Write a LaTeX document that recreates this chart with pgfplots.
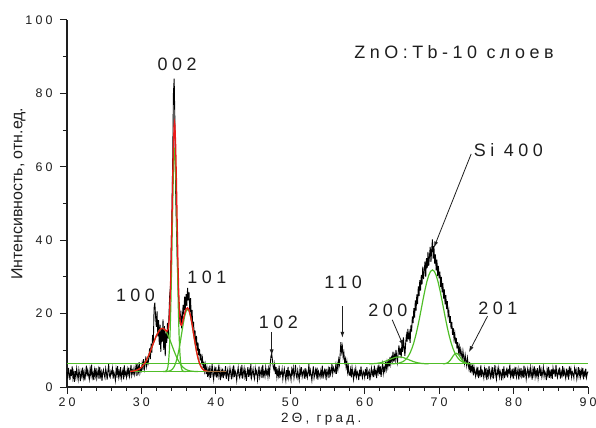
\documentclass[border=0pt]{standalone}
\usepackage{fontspec}
\setmainfont{Liberation Sans}[LetterSpace=25]
\usepackage{pgfplots}
\pgfplotsset{compat=1.18}
\usetikzlibrary{arrows.meta}

\definecolor{fitgreen}{RGB}{80,190,40}
\definecolor{fitred}{RGB}{235,25,25}
\definecolor{fitbrown}{RGB}{160,110,60}
\definecolor{txt}{RGB}{30,30,30}

\begin{document}
\begin{tikzpicture}
\begin{axis}[
  at={(0,0)}, anchor=south west,
  scale only axis, width=521bp, height=367bp,
  xmin=20, xmax=90, ymin=0, ymax=100,
  enlargelimits=false,
  axis lines=left,
  axis line style={-, line width=1.2pt, txt},
  tick align=outside,
  tick style={line width=1pt, txt},
  major tick length=7bp, minor tick length=4bp,
  xtick={20,30,...,90}, minor x tick num=4,
  ytick={0,20,...,100}, minor y tick num=1,
  /pgf/number format/assume math mode=true,
  tick label style={font=\fontsize{12.5}{14}\selectfont, text=txt},
  yticklabel style={xshift=-4bp},
  xlabel={2Θ, град.},
  ylabel={\addfontfeature{LetterSpace=0}Интенсивность, отн.ед.},
  xlabel style={font=\fontsize{13.5}{16}\selectfont, text=txt,
    at={(axis description cs:0.488,-0.087)}, anchor=center},
  ylabel style={font=\fontsize{16}{18}\selectfont, text=txt,
    at={(axis description cs:-0.093,0.527)}, anchor=center},
  clip=false,
]
% measured pattern
\addplot[black, line width=0.9pt] coordinates {
(20.0,4.1)(20.1,2.3)(20.2,5.2)(20.3,3.6)(20.4,1.9)(20.5,4.8)(20.6,3.0)(20.7,5.6)(20.8,2.5)(20.9,3.9)
(21.0,1.4)(21.1,4.4)(21.2,2.8)(21.3,5.0)(21.4,3.3)(21.5,2.0)(21.6,4.7)(21.7,3.5)(21.8,1.6)(21.9,4.2)
(22.0,3.0)(22.1,5.3)(22.2,2.6)(22.3,4.0)(22.4,1.8)(22.5,3.7)(22.6,5.8)(22.7,2.9)(22.8,4.5)(22.9,3.2)
(23.0,2.1)(23.1,4.9)(23.2,3.4)(23.3,6.1)(23.4,2.7)(23.5,3.8)(23.6,1.9)(23.7,4.6)(23.8,3.1)(23.9,5.2)
(24.0,2.4)(24.1,3.6)(24.2,4.8)(24.3,2.2)(24.4,5.5)(24.5,3.0)(24.6,4.1)(24.7,1.7)(24.8,3.9)(24.9,4.7)
(25.0,3.3)(25.1,2.5)(25.2,5.0)(25.3,3.8)(25.4,2.0)(25.5,4.4)(25.6,6.2)(25.7,3.1)(25.8,2.6)(25.9,4.3)
(26.0,3.7)(26.1,5.1)(26.2,2.3)(26.3,4.0)(26.4,3.2)(26.5,1.8)(26.6,4.9)(26.7,3.5)(26.8,5.7)(26.9,2.8)
(27.0,4.2)(27.1,3.0)(27.2,5.4)(27.3,2.4)(27.4,3.8)(27.5,4.6)(27.6,2.1)(27.7,5.9)(27.8,3.3)(27.9,4.0)
(28.0,2.7)(28.1,4.8)(28.2,3.5)(28.3,5.3)(28.4,2.9)(28.5,4.1)(28.6,6.0)(28.7,3.2)(28.8,4.5)(28.9,3.7)
(29.0,5.1)(29.1,3.4)(29.2,4.6)(29.3,6.3)(29.4,3.0)(29.5,5.5)(29.6,4.2)(29.7,6.8)(29.8,3.9)(29.9,5.0)
(30.0,4.4)(30.1,6.5)(30.2,5.2)(30.3,7.6)(30.4,4.9)(30.5,6.1)(30.6,8.3)(30.7,5.7)(30.8,7.0)(30.9,6.4)
(31.0,8.2)(31.1,10.5)(31.2,7.6)(31.3,11.8)(31.4,9.4)(31.5,14.2)(31.6,12.0)(31.7,21.5)(31.8,23.0)(31.9,19.2)
(32.0,16.4)(32.1,20.6)(32.2,13.8)(32.3,18.2)(32.4,11.5)(32.5,17.0)(32.6,9.6)(32.7,15.8)(32.8,12.3)(32.9,18.4)
(33.0,10.1)(33.1,16.6)(33.2,8.4)(33.3,14.9)(33.4,12.0)(33.5,17.5)(33.6,13.2)(33.7,19.6)(33.8,25.0)(33.9,27.5)
(34.0,38.0)(34.1,48.0)(34.2,62.0)(34.3,80.0)(34.4,84.0)(34.5,72.0)(34.6,53.0)(34.7,44.0)(34.8,36.0)(34.9,28.0)
(35.0,24.0)(35.1,19.5)(35.2,17.2)(35.3,20.8)(35.4,16.0)(35.5,18.9)(35.6,22.4)(35.7,19.7)(35.8,24.6)(35.9,21.0)
(36.0,25.3)(36.1,22.1)(36.2,27.0)(36.3,23.6)(36.4,25.8)(36.5,20.4)(36.6,24.2)(36.7,18.6)(36.8,21.0)(36.9,16.3)
(37.0,17.8)(37.1,13.5)(37.2,15.4)(37.3,11.2)(37.4,13.9)(37.5,9.8)(37.6,12.1)(37.7,8.6)(37.8,10.4)(37.9,7.3)
(38.0,9.0)(38.1,6.2)(38.2,7.8)(38.3,5.1)(38.4,6.9)(38.5,4.4)(38.6,6.0)(38.7,3.5)(38.8,5.2)(38.9,2.8)
(39.0,4.6)(39.1,3.1)(39.2,5.8)(39.3,2.5)(39.4,4.0)(39.5,6.3)(39.6,3.4)(39.7,2.0)(39.8,4.8)(39.9,3.6)
(40.0,5.5)(40.1,2.6)(40.2,4.2)(40.3,3.0)(40.4,6.1)(40.5,3.8)(40.6,1.9)(40.7,4.5)(40.8,3.2)(40.9,5.0)
(41.0,2.4)(41.1,4.1)(41.2,3.5)(41.3,5.7)(41.4,2.2)(41.5,3.9)(41.6,4.8)(41.7,1.6)(41.8,3.3)(41.9,5.2)
(42.0,3.8)(42.1,2.1)(42.2,4.6)(42.3,3.2)(42.4,5.9)(42.5,2.7)(42.6,4.3)(42.7,3.6)(42.8,1.8)(42.9,4.0)
(43.0,5.3)(43.1,3.1)(43.2,2.5)(43.3,4.7)(43.4,3.4)(43.5,6.0)(43.6,2.3)(43.7,3.9)(43.8,5.1)(43.9,2.9)
(44.0,4.2)(44.1,1.7)(44.2,3.6)(44.3,5.4)(44.4,2.8)(44.5,4.5)(44.6,3.3)(44.7,6.2)(44.8,2.6)(44.9,3.8)
(45.0,4.9)(45.1,3.0)(45.2,2.2)(45.3,5.1)(45.4,3.7)(45.5,4.4)(45.6,1.9)(45.7,3.5)(45.8,5.6)(45.9,2.7)
(46.0,3.9)(46.1,4.8)(46.2,2.4)(46.3,6.0)(46.4,3.2)(46.5,4.1)(46.6,2.9)(46.7,5.3)(46.8,3.6)(46.9,4.5)
(47.0,2.8)(47.1,5.0)(47.2,3.4)(47.3,6.1)(47.4,8.3)(47.5,9.1)(47.6,7.4)(47.7,5.6)(47.8,4.8)(47.9,6.2)
(48.0,3.5)(48.1,5.4)(48.2,2.7)(48.3,4.3)(48.4,3.1)(48.5,5.8)(48.6,2.4)(48.7,4.0)(48.8,3.6)(48.9,4.9)
(49.0,2.2)(49.1,3.8)(49.2,5.0)(49.3,3.3)(49.4,1.8)(49.5,4.6)(49.6,3.0)(49.7,5.5)(49.8,2.6)(49.9,4.1)
(50.0,3.4)(50.1,2.0)(50.2,4.8)(50.3,3.7)(50.4,5.2)(50.5,2.5)(50.6,4.0)(50.7,6.0)(50.8,3.1)(50.9,2.4)
(51.0,4.5)(51.1,3.2)(51.2,1.9)(51.3,4.9)(51.4,3.6)(51.5,5.4)(51.6,2.8)(51.7,3.9)(51.8,4.4)(51.9,2.3)
(52.0,5.1)(52.1,3.0)(52.2,4.2)(52.3,2.6)(52.4,3.8)(52.5,6.2)(52.6,2.9)(52.7,4.5)(52.8,3.3)(52.9,1.8)
(53.0,4.0)(53.1,5.6)(53.2,2.5)(53.3,3.6)(53.4,4.7)(53.5,3.1)(53.6,5.3)(53.7,2.0)(53.8,4.2)(53.9,3.5)
(54.0,2.7)(54.1,4.4)(54.2,3.2)(54.3,5.8)(54.4,2.3)(54.5,3.9)(54.6,4.6)(54.7,3.0)(54.8,5.0)(54.9,2.6)
(55.0,3.8)(55.1,4.9)(55.2,2.4)(55.3,5.5)(55.4,3.4)(55.5,4.1)(55.6,6.3)(55.7,3.6)(55.8,5.2)(55.9,4.5)
(56.0,4.0)(56.1,5.8)(56.2,3.6)(56.3,6.2)(56.4,4.9)(56.5,7.4)(56.6,6.1)(56.7,8.9)(56.8,12.2)(56.9,9.6)
(57.0,11.0)(57.1,8.2)(57.2,9.4)(57.3,6.8)(57.4,7.7)(57.5,5.4)(57.6,6.9)(57.7,4.1)(57.8,5.6)(57.9,3.3)
(58.0,3.2)(58.1,4.8)(58.2,2.6)(58.3,5.3)(58.4,3.7)(58.5,2.1)(58.6,4.4)(58.7,3.3)(58.8,5.0)(58.9,2.8)
(59.0,4.1)(59.1,3.5)(59.2,1.9)(59.3,4.7)(59.4,2.9)(59.5,5.6)(59.6,3.4)(59.7,2.5)(59.8,4.3)(59.9,3.8)
(60.0,2.6)(60.1,4.9)(60.2,3.1)(60.3,5.4)(60.4,2.2)(60.5,3.9)(60.6,4.5)(60.7,1.8)(60.8,3.6)(60.9,5.1)
(61.0,3.3)(61.1,4.2)(61.2,2.7)(61.3,5.8)(61.4,3.6)(61.5,4.4)(61.6,2.4)(61.7,5.0)(61.8,3.9)(61.9,6.1)
(62.0,3.5)(62.1,5.6)(62.2,2.8)(62.3,4.9)(62.4,6.3)(62.5,3.7)(62.6,5.2)(62.7,4.3)(62.8,6.8)(62.9,4.9)
(63.0,6.8)(63.1,5.4)(63.2,7.6)(63.3,5.6)(63.4,8.2)(63.5,6.3)(63.6,8.0)(63.7,7.1)(63.8,9.6)(63.9,6.9)
(64.0,8.6)(64.1,7.3)(64.2,10.1)(64.3,8.2)(64.4,6.7)(64.5,9.4)(64.6,11.3)(64.7,8.8)(64.8,10.5)(64.9,7.9)
(65.0,12.2)(65.1,9.6)(65.2,13.5)(65.3,10.8)(65.4,8.5)(65.5,11.9)(65.6,14.1)(65.7,12.4)(65.8,15.8)(65.9,13.0)
(66.0,14.6)(66.1,12.0)(66.2,16.8)(66.3,15.1)(66.4,19.2)(66.5,17.4)(66.6,21.5)(66.7,18.9)(66.8,23.6)(66.9,20.8)
(67.0,25.2)(67.1,22.6)(67.2,27.4)(67.3,24.8)(67.4,29.1)(67.5,26.3)(67.6,30.5)(67.7,28.0)(67.8,32.8)(67.9,29.4)
(68.0,31.6)(68.1,34.2)(68.2,30.0)(68.3,35.1)(68.4,32.4)(68.5,36.8)(68.6,33.0)(68.7,35.6)(68.8,38.2)(68.9,34.1)
(69.0,37.5)(69.1,40.2)(69.2,35.0)(69.3,38.4)(69.4,33.6)(69.5,36.1)(69.6,31.8)(69.7,34.7)(69.8,30.2)(69.9,33.0)
(70.0,29.6)(70.1,31.4)(70.2,27.2)(70.3,30.0)(70.4,25.8)(70.5,28.3)(70.6,24.1)(70.7,26.6)(70.8,22.5)(70.9,25.0)
(71.0,21.2)(71.1,23.4)(71.2,19.6)(71.3,20.8)(71.4,17.5)(71.5,19.3)(71.6,15.9)(71.7,17.7)(71.8,14.2)(71.9,16.0)
(72.0,13.1)(72.1,14.6)(72.2,11.8)(72.3,13.4)(72.4,10.5)(72.5,12.2)(72.6,9.6)(72.7,11.0)(72.8,8.4)(72.9,10.3)
(73.0,9.0)(73.1,7.6)(73.2,9.8)(73.3,8.1)(73.4,6.5)(73.5,8.7)(73.6,7.2)(73.7,5.8)(73.8,7.9)(73.9,6.3)
(74.0,5.0)(74.1,6.8)(74.2,3.9)(74.3,5.6)(74.4,4.4)(74.5,6.1)(74.6,3.2)(74.7,5.3)(74.8,4.0)(74.9,2.9)
(75.0,4.7)(75.1,3.6)(75.2,5.5)(75.3,2.4)(75.4,4.1)(75.5,3.3)(75.6,5.9)(75.7,2.7)(75.8,4.4)(75.9,3.8)
(76.0,2.5)(76.1,4.9)(76.2,3.4)(76.3,5.2)(76.4,1.9)(76.5,4.2)(76.6,3.0)(76.7,5.7)(76.8,3.5)(76.9,2.6)
(77.0,4.6)(77.1,3.1)(77.2,5.4)(77.3,2.3)(77.4,4.0)(77.5,6.0)(77.6,3.3)(77.7,2.1)(77.8,4.8)(77.9,3.7)
(78.0,5.1)(78.1,2.8)(78.2,4.3)(78.3,3.5)(78.4,1.8)(78.5,4.9)(78.6,3.2)(78.7,5.6)(78.8,2.4)(78.9,4.0)
(79.0,3.4)(79.1,5.3)(79.2,2.6)(79.3,4.5)(79.4,3.9)(79.5,6.1)(79.6,2.9)(79.7,4.2)(79.8,3.1)(79.9,5.0)
(80.0,2.3)(80.1,4.7)(80.2,3.6)(80.3,5.5)(80.4,2.7)(80.5,3.8)(80.6,4.9)(80.7,2.0)(80.8,4.4)(80.9,3.3)
(81.0,5.2)(81.1,3.0)(81.2,4.1)(81.3,2.5)(81.4,5.8)(81.5,3.4)(81.6,4.6)(81.7,2.2)(81.8,3.9)(81.9,5.0)
(82.0,3.1)(82.1,4.4)(82.2,2.6)(82.3,5.3)(82.4,3.7)(82.5,2.0)(82.6,4.8)(82.7,3.5)(82.8,5.6)(82.9,2.8)
(83.0,4.3)(83.1,3.2)(83.2,5.1)(83.3,2.4)(83.4,4.0)(83.5,5.9)(83.6,3.0)(83.7,4.6)(83.8,2.7)(83.9,3.8)
(84.0,5.4)(84.1,2.9)(84.2,4.2)(84.3,3.6)(84.4,1.9)(84.5,4.7)(84.6,3.3)(84.7,5.5)(84.8,2.5)(84.9,4.1)
(85.0,3.0)(85.1,4.8)(85.2,2.2)(85.3,5.2)(85.4,3.9)(85.5,4.4)(85.6,2.8)(85.7,6.0)(85.8,3.4)(85.9,2.6)
(86.0,4.5)(86.1,3.7)(86.2,5.3)(86.3,2.3)(86.4,4.0)(86.5,3.1)(86.6,5.7)(86.7,2.9)(86.8,4.6)(86.9,3.5)
(87.0,2.4)(87.1,5.0)(87.2,3.3)(87.3,4.3)(87.4,2.0)(87.5,5.6)(87.6,3.8)(87.7,4.9)(87.8,2.7)(87.9,4.1)
(88.0,3.6)(88.1,2.5)(88.2,5.1)(88.3,3.9)(88.4,4.7)(88.5,2.2)(88.6,3.4)(88.7,5.4)(88.8,3.0)(88.9,4.4)
(89.0,2.8)(89.1,4.6)(89.2,3.5)(89.3,5.2)(89.4,2.1)(89.5,4.0)(89.6,3.2)(89.7,5.0)(89.8,2.6)(89.9,3.7)
(90.0,4.2)
};
% background level of the Si fit
\addplot[fitgreen, line width=1.2pt] coordinates {(20,6.3)(90,6.3)};
% background level of the ZnO fit
\addplot[fitgreen, line width=1.2pt] coordinates {(28.5,4.2)(38.6,4.2)};
% ZnO 100 component
\addplot[fitgreen, line width=1.2pt] coordinates {
(28.5,4.25)(28.8,4.30)(29.05,4.38)(29.3,4.51)(29.55,4.72)(29.8,5.02)(30.05,5.46)(30.3,6.06)(30.55,6.84)(30.8,7.81)
(31.05,8.97)(31.3,10.26)(31.55,11.63)(31.8,12.98)(32.05,14.19)(32.3,15.16)(32.55,15.79)(32.8,16.0)(33.05,15.79)(33.3,15.16)
(33.55,14.19)(33.8,12.98)(34.05,11.63)(34.3,10.26)(34.55,8.97)(34.8,7.81)(35.05,6.84)(35.3,6.06)(35.55,5.46)(35.8,5.02)
(36.05,4.72)(36.3,4.51)(36.55,4.38)(36.8,4.30)(37.1,4.25)(37.6,4.2)
};
% ZnO 002 component
\addplot[fitgreen, line width=1.2pt] coordinates {
(32.9,4.2)(33.25,4.25)(33.45,4.66)(33.55,5.4)(33.65,6.9)(33.75,9.8)(33.85,14.7)(33.95,22.2)(34.05,32.1)(34.15,43.5)
(34.25,54.4)(34.35,62.3)(34.45,65.2)(34.55,62.3)(34.65,54.4)(34.75,43.5)(34.85,32.1)(34.95,22.2)(35.05,14.7)(35.15,9.8)
(35.25,6.9)(35.35,5.4)(35.45,4.66)(35.65,4.25)(36.0,4.2)
};
% ZnO 101 component
\addplot[fitgreen, line width=1.2pt] coordinates {
(33.2,4.21)(33.4,4.24)(33.6,4.29)(33.8,4.39)(34.0,4.59)(34.2,4.95)(34.4,5.55)(34.6,6.50)(34.8,7.88)(35.0,9.72)
(35.2,11.98)(35.4,14.51)(35.6,17.03)(35.8,19.2)(36.0,20.68)(36.2,21.2)(36.4,20.68)(36.6,19.2)(36.8,17.03)(37.0,14.51)
(37.2,11.98)(37.4,9.72)(37.6,7.88)(37.8,6.50)(38.0,5.55)(38.2,4.95)(38.4,4.59)(38.6,4.39)(38.8,4.29)(39.0,4.24)(39.2,4.21)
};
% ZnO 200 component
\addplot[fitgreen, line width=1.2pt] coordinates {
(60.6,6.32)(61.1,6.35)(61.6,6.43)(62.1,6.60)(62.6,6.88)(63.1,7.28)(63.6,7.71)(64.1,8.07)(64.6,8.2)(65.1,8.07)
(65.6,7.71)(66.1,7.28)(66.6,6.88)(67.1,6.60)(67.6,6.43)(68.1,6.35)(68.6,6.32)
};
% Si 400 component
\addplot[fitgreen, line width=1.2pt] coordinates {
(63.6,6.32)(64.1,6.37)(64.6,6.51)(65.1,6.87)(65.35,7.20)(65.6,7.69)(65.85,8.38)(66.1,9.31)(66.35,10.54)(66.6,12.09)
(66.85,13.98)(67.1,16.18)(67.35,18.66)(67.6,21.29)(67.85,23.96)(68.1,26.48)(68.35,28.70)(68.6,30.42)(68.85,31.52)(69.1,31.9)
(69.35,31.52)(69.6,30.42)(69.85,28.70)(70.1,26.48)(70.35,23.96)(70.6,21.29)(70.85,18.66)(71.1,16.18)(71.35,13.98)(71.6,12.09)
(71.85,10.54)(72.1,9.31)(72.35,8.38)(72.6,7.69)(72.85,7.20)(73.1,6.87)(73.6,6.51)(74.1,6.37)(74.6,6.32)
};
% ZnO 201 component
\addplot[fitgreen, line width=1.2pt] coordinates {
(70.5,6.31)(70.7,6.34)(70.9,6.41)(71.1,6.57)(71.3,6.86)(71.5,7.31)(71.7,7.90)(71.9,8.53)(72.1,9.01)(72.3,9.2)
(72.5,9.01)(72.7,8.53)(72.9,7.90)(73.1,7.31)(73.3,6.86)(73.5,6.57)(73.7,6.41)(73.9,6.34)(74.1,6.31)
};
% cumulative fit of the ZnO triplet
\addplot[fitred, line width=1.3pt] coordinates {
(28.5,4.25)(29.0,4.37)(29.5,4.67)(30.0,5.36)(30.5,6.67)(31.0,8.72)(31.5,11.36)(32.0,13.97)(32.5,15.69)(32.8,16.0)
(33.0,15.87)(33.2,15.50)(33.4,15.13)(33.6,15.85)(33.7,17.53)(33.8,20.93)(33.9,26.64)(34.0,34.99)(34.1,45.44)(34.2,56.52)
(34.3,65.92)(34.4,71.35)(34.45,72.02)(34.5,71.26)(34.6,65.67)(34.7,56.15)(34.8,45.03)(34.9,34.63)(35.0,26.46)(35.1,21.04)
(35.2,18.04)(35.3,16.88)(35.4,16.85)(35.5,17.44)(35.6,18.29)(35.8,20.02)(36.0,21.25)(36.2,21.59)(36.4,20.94)(36.6,19.37)
(36.8,17.13)(37.0,14.57)(37.2,12.02)(37.4,9.74)(37.6,7.89)(37.8,6.50)(38.0,5.55)(38.2,4.95)(38.4,4.59)(38.6,4.39)
(38.8,4.29)(39.0,4.24)
};
% tail of the fitting window
\addplot[fitbrown, line width=1.3pt] coordinates {(38.6,4.25)(41.4,4.25)};

% reflection labels
\begin{scope}[every node/.style={text=txt, font=\fontsize{18}{21}\selectfont, inner sep=0pt}]
\node at (axis cs:34.8,88) {002};
\node at (axis cs:29.2,25) {100};
\node at (axis cs:38.8,30) {101};
\node at (axis cs:48.4,17.5) {102};
\node at (axis cs:57.1,28.6) {110};
\node at (axis cs:63.1,21) {200};
\node at (axis cs:77.9,21.5) {201};
\node at (axis cs:79.3,64.6) {Si 400};
\node at (axis cs:72.0,91.3) {ZnO:Tb-10 слоев};
\end{scope}
\begin{scope}[txt, line width=0.8pt, -{Latex[length=6bp,width=4bp]}]
\draw (axis cs:47.5,15) -- (axis cs:47.5,8.6);
\draw (axis cs:57,22) -- (axis cs:57,13.4);
\draw (axis cs:63.7,18.3) -- (axis cs:65.2,11.2);
\draw (axis cs:76.5,19.3) -- (axis cs:74.0,9.5);
\draw (axis cs:74.3,63.5) -- (axis cs:69.3,38);
\end{scope}
\end{axis}
\pgfresetboundingbox
\path[use as bounding box] (-67bp,-41bp) rectangle (529bp,387bp);
\end{tikzpicture}
\end{document}
